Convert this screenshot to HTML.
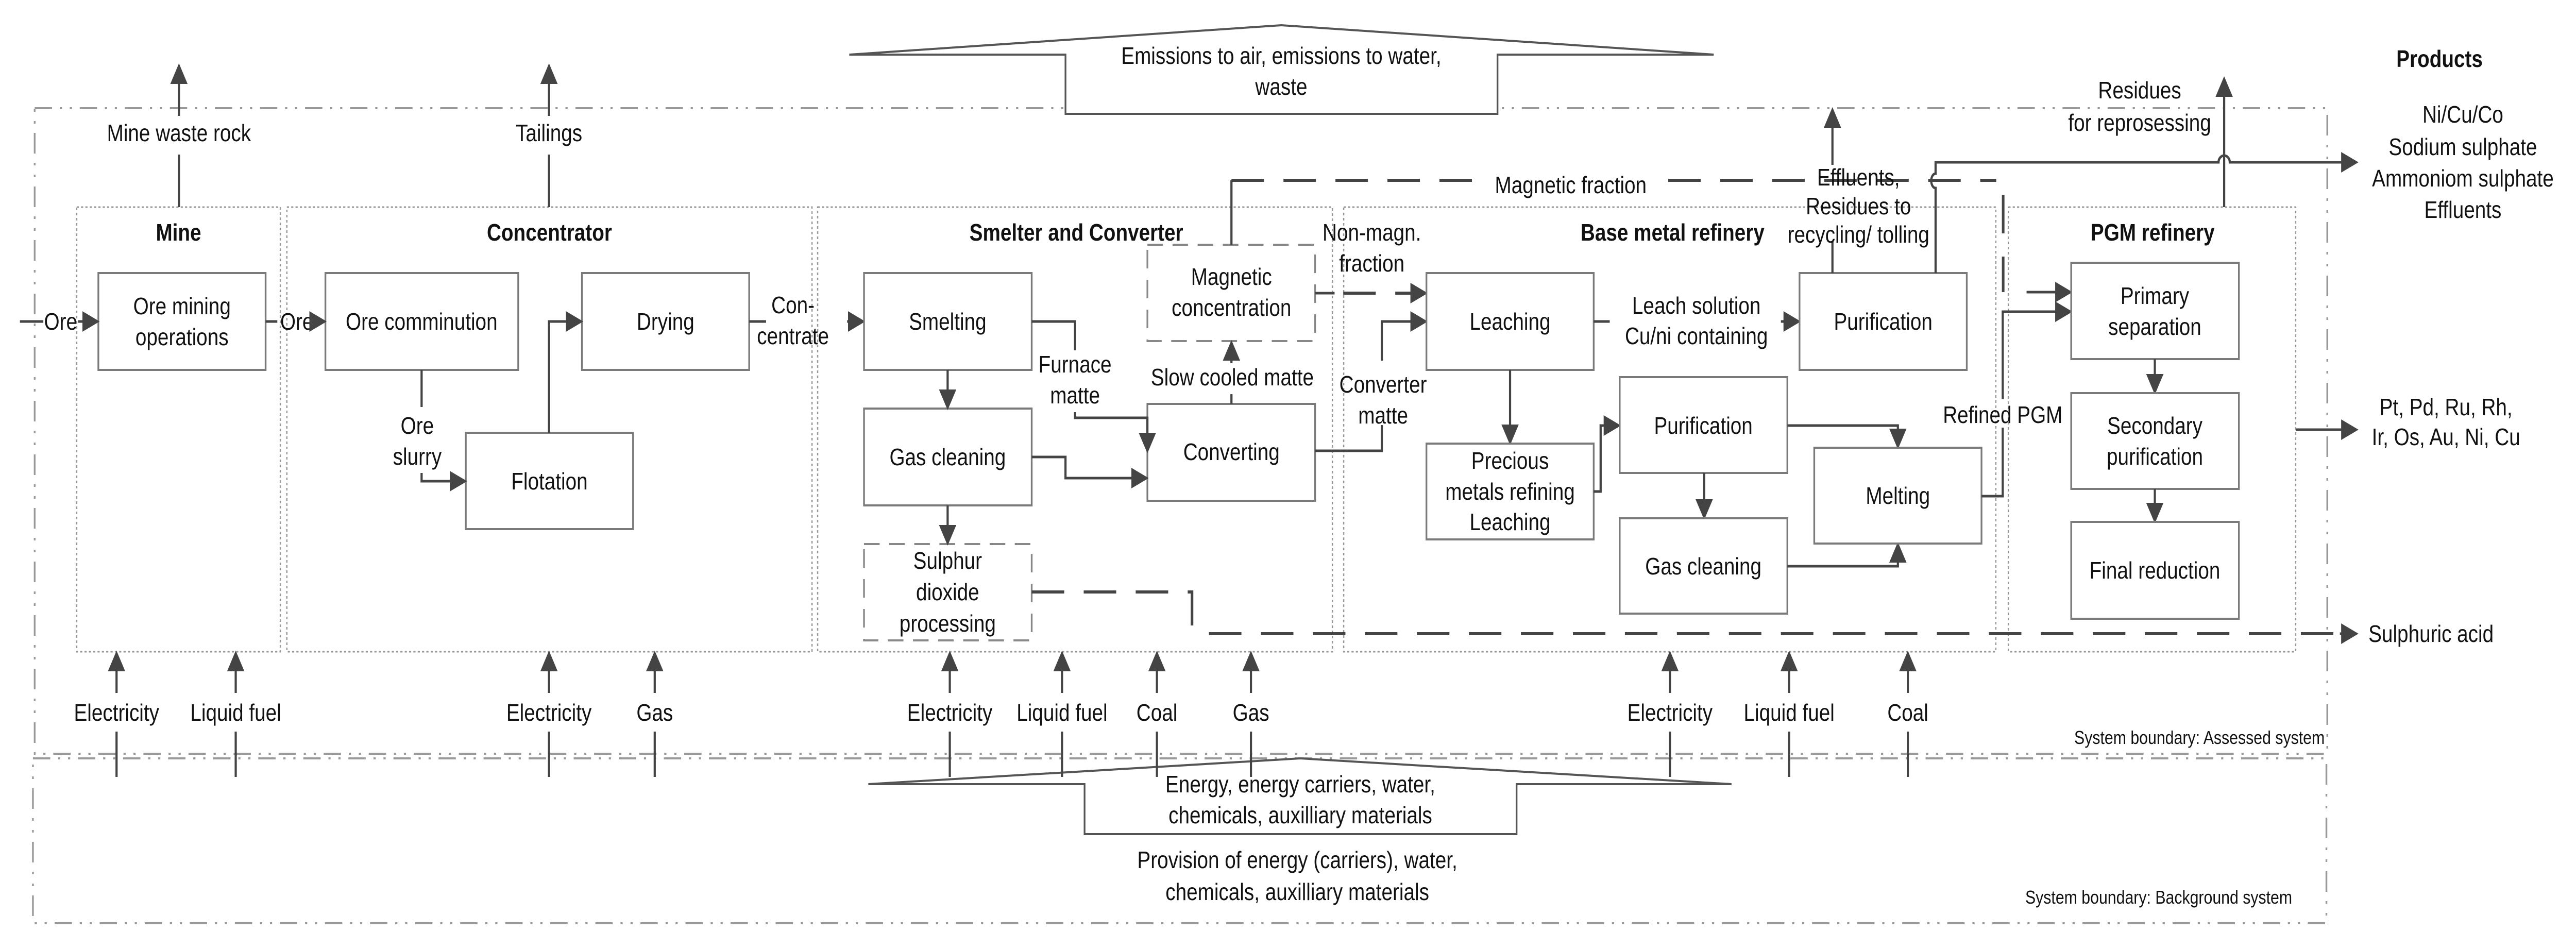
<!DOCTYPE html>
<html><head><meta charset="utf-8"><style>
html,body{margin:0;padding:0;background:#fff;width:100%;height:100%;overflow:hidden;}
svg{display:block;width:100vw;height:100vh;}
text{font-family:"Liberation Sans",Arial,sans-serif;font-size:46px;fill:#111;text-anchor:middle;}
.b{font-weight:bold;}
.box{fill:#fff;stroke:#7a7a7a;stroke-width:4;}
.dbox{fill:#fff;stroke:#888;stroke-width:4;stroke-dasharray:36 22;}
.area{fill:none;stroke:#999;stroke-width:3;stroke-dasharray:5 5;}
.bound{fill:none;stroke:#999;stroke-width:4;stroke-dasharray:40 18 5 18 5 18;}
.ln{fill:none;stroke:#444;stroke-width:5;}
.dl{fill:none;stroke:#444;stroke-width:6;stroke-dasharray:75 45;}
</style></head><body>
<svg viewBox="0 0 5945 1842" preserveAspectRatio="none" xmlns="http://www.w3.org/2000/svg">
<defs>
<marker id="a" markerWidth="8" markerHeight="8" refX="7" refY="4" orient="auto" markerUnits="strokeWidth">
<path d="M0,0 L8,4 L0,8 z" fill="#444"/></marker>
</defs>

<rect class="bound" x="80" y="210" width="5291" height="1253"/>
<rect class="bound" x="76" y="1472" width="5293" height="320"/>

<rect class="area" x="177" y="402" width="470" height="863"/>
<rect class="area" x="662" y="402" width="1212" height="863"/>
<rect class="area" x="1887" y="402" width="1188" height="863"/>
<rect class="area" x="3101" y="402" width="1505" height="863"/>
<rect class="area" x="4635" y="402" width="663" height="863"/>

<path d="M1960,106 L2957,49 L3955,106 L3456,106 L3456,221 L2459,221 L2459,106 Z" fill="#fff" stroke="#555" stroke-width="4"/>
<text x="2957" y="124">Emissions to air, emissions to water,</text>
<text x="2957" y="184">waste</text>

<path d="M2004,1522 L3001,1472 L3996,1522 L3500,1522 L3500,1619 L2503,1619 L2503,1522 Z" fill="#fff" stroke="#555" stroke-width="4"/>

<text class="b" x="412" y="467">Mine</text>
<text class="b" x="1268" y="467">Concentrator</text>
<text class="b" x="2484" y="467">Smelter and Converter</text>
<text class="b" x="3860" y="467">Base metal refinery</text>
<text class="b" x="4968" y="467">PGM refinery</text>
<text class="b" x="5630" y="130">Products</text>

<line class="ln" x1="413" y1="402" x2="413" y2="300"/>
<line class="ln" x1="413" y1="225" x2="413" y2="128" marker-end="url(#a)"/>
<text x="413" y="274">Mine waste rock</text>
<line class="ln" x1="1267" y1="402" x2="1267" y2="300"/>
<line class="ln" x1="1267" y1="225" x2="1267" y2="128" marker-end="url(#a)"/>
<text x="1267" y="274">Tailings</text>

<rect class="box" x="227" y="530" width="386" height="188"/>
<text x="420" y="610">Ore mining</text><text x="420" y="670">operations</text>
<rect class="box" x="751" y="530" width="445" height="188"/>
<text x="973" y="640">Ore comminution</text>
<rect class="box" x="1343" y="530" width="386" height="188"/>
<text x="1536" y="640">Drying</text>
<rect class="box" x="1075" y="840" width="386" height="187"/>
<text x="1268" y="950">Flotation</text>

<line class="ln" x1="46" y1="624" x2="100" y2="624"/>
<text x="140" y="640">Ore</text>
<line class="ln" x1="180" y1="624" x2="225" y2="624" marker-end="url(#a)"/>
<line class="ln" x1="613" y1="624" x2="640" y2="624"/>
<text x="685" y="640">Ore</text>
<line class="ln" x1="728" y1="624" x2="749" y2="624" marker-end="url(#a)"/>
<line class="ln" x1="973" y1="718" x2="973" y2="790"/>
<text x="963" y="842">Ore</text><text x="963" y="902">slurry</text>
<path class="ln" d="M973,918 L973,934 L1073,934" marker-end="url(#a)"/>
<path class="ln" d="M1267,840 L1267,624 L1341,624" marker-end="url(#a)"/>
<line class="ln" x1="1729" y1="624" x2="1768" y2="624"/>
<text x="1830" y="608">Con-</text><text x="1830" y="668">centrate</text>
<line class="ln" x1="1955" y1="624" x2="1992" y2="624" marker-end="url(#a)"/>

<rect class="box" x="1994" y="530" width="387" height="188"/>
<text x="2187" y="640">Smelting</text>
<rect class="box" x="1994" y="793" width="387" height="188"/>
<text x="2187" y="903">Gas cleaning</text>
<rect class="dbox" x="1994" y="1056" width="387" height="187"/>
<text x="2187" y="1104">Sulphur</text><text x="2187" y="1165">dioxide</text><text x="2187" y="1226">processing</text>
<rect class="dbox" x="2648" y="475" width="387" height="187"/>
<text x="2842" y="553">Magnetic</text><text x="2842" y="613">concentration</text>
<rect class="box" x="2648" y="784" width="387" height="188"/>
<text x="2842" y="893">Converting</text>

<line class="ln" x1="2187" y1="718" x2="2187" y2="791" marker-end="url(#a)"/>
<line class="ln" x1="2187" y1="981" x2="2187" y2="1054" marker-end="url(#a)"/>
<path class="ln" d="M2381,624 L2481,624 L2481,680"/>
<text x="2481" y="723">Furnace</text><text x="2481" y="783">matte</text>
<path class="ln" d="M2481,800 L2481,811 L2648,811 L2648,875" marker-end="url(#a)"/>
<path class="ln" d="M2381,887 L2459,887 L2459,928 L2646,928" marker-end="url(#a)"/>
<line class="ln" x1="2842" y1="784" x2="2842" y2="765"/>
<text x="2844" y="748">Slow cooled matte</text>
<line class="ln" x1="2842" y1="705" x2="2842" y2="665" marker-end="url(#a)"/>
<line class="ln" x1="2842" y1="475" x2="2842" y2="350"/>
<path class="dl" d="M2842,350 L3400,350"/>
<text x="3625" y="375">Magnetic fraction</text>
<path class="dl" d="M3850,350 L4607,350"/>
<path class="dl" d="M4623,378 L4623,567"/>
<line class="ln" x1="4677" y1="567" x2="4778" y2="567" marker-end="url(#a)"/>
<text x="3166" y="467">Non-magn.</text><text x="3166" y="527">fraction</text>
<line class="ln" x1="3035" y1="569" x2="3080" y2="569"/>
<path class="dl" d="M3100,569 L3270,569"/>
<line class="ln" x1="3270" y1="569" x2="3290" y2="569" marker-end="url(#a)"/>
<path class="ln" d="M3035,875 L3189,875 L3189,825"/>
<text x="3192" y="762">Converter</text><text x="3192" y="822">matte</text>
<path class="ln" d="M3189,700 L3189,624 L3290,624" marker-end="url(#a)"/>

<path class="dl" d="M2381,1149 L2751,1149 L2751,1230"/>
<path class="dl" d="M2790,1230 L5400,1230"/>
<line class="ln" x1="5400" y1="1230" x2="5438" y2="1230" marker-end="url(#a)"/>
<text x="5466" y="1246" style="text-anchor:start">Sulphuric acid</text>

<rect class="box" x="3292" y="530" width="386" height="188"/>
<text x="3485" y="640">Leaching</text>
<line class="ln" x1="3678" y1="624" x2="3715" y2="624"/>
<text x="3915" y="609">Leach solution</text><text x="3915" y="668">Cu/ni containing</text>
<line class="ln" x1="4110" y1="624" x2="4151" y2="624" marker-end="url(#a)"/>
<rect class="box" x="4153" y="530" width="386" height="188"/>
<text x="4346" y="640">Purification</text>
<line class="ln" x1="3485" y1="718" x2="3485" y2="859" marker-end="url(#a)"/>
<rect class="box" x="3292" y="861" width="386" height="186"/>
<text x="3485" y="910">Precious</text><text x="3485" y="970">metals refining</text><text x="3485" y="1029">Leaching</text>
<path class="ln" d="M3678,954 L3694,954 L3694,826 L3736,826" marker-end="url(#a)"/>
<rect class="box" x="3738" y="732" width="387" height="186"/>
<text x="3931" y="842">Purification</text>
<line class="ln" x1="3933" y1="918" x2="3933" y2="1004" marker-end="url(#a)"/>
<rect class="box" x="3738" y="1006" width="387" height="185"/>
<text x="3931" y="1115">Gas cleaning</text>
<path class="ln" d="M4125,826 L4380,826 L4380,867" marker-end="url(#a)"/>
<path class="ln" d="M4125,1099 L4380,1099 L4380,1057" marker-end="url(#a)"/>
<rect class="box" x="4187" y="869" width="386" height="186"/>
<text x="4380" y="978">Melting</text>
<path class="ln" d="M4573,963 L4622,963 L4622,830"/>
<text x="4622" y="821">Refined PGM</text>
<path class="ln" d="M4622,775 L4622,605 L4778,605" marker-end="url(#a)"/>

<line class="ln" x1="4229" y1="530" x2="4229" y2="470"/>
<text x="4289" y="360">Effluents,</text><text x="4289" y="416">Residues to</text><text x="4289" y="471">recycling/ tolling</text>
<line class="ln" x1="4229" y1="320" x2="4229" y2="213" marker-end="url(#a)"/>
<path class="ln" d="M4467,530 L4467,365 A10,14 0 0 1 4467,337 L4467,315 L5120,315 A13,13 0 0 1 5146,315 L5438,315" marker-end="url(#a)"/>
<line class="ln" x1="5133" y1="402" x2="5133" y2="153" marker-end="url(#a)"/>
<text x="4938" y="191">Residues</text><text x="4938" y="254">for reprosessing</text>
<text x="5684" y="238">Ni/Cu/Co</text><text x="5684" y="301">Sodium sulphate</text>
<text x="5684" y="362">Ammoniom sulphate</text><text x="5684" y="423">Effluents</text>

<rect class="box" x="4780" y="510" width="387" height="187"/>
<text x="4973" y="590">Primary</text><text x="4973" y="650">separation</text>
<line class="ln" x1="4973" y1="697" x2="4973" y2="761" marker-end="url(#a)"/>
<rect class="box" x="4780" y="763" width="387" height="186"/>
<text x="4973" y="842">Secondary</text><text x="4973" y="902">purification</text>
<line class="ln" x1="4973" y1="949" x2="4973" y2="1011" marker-end="url(#a)"/>
<rect class="box" x="4780" y="1013" width="387" height="188"/>
<text x="4973" y="1123">Final reduction</text>
<line class="ln" x1="5298" y1="834" x2="5438" y2="834" marker-end="url(#a)"/>
<text x="5645" y="806">Pt, Pd, Ru, Rh,</text><text x="5645" y="864">Ir, Os, Au, Ni, Cu</text>

<g>
<line class="ln" x1="269" y1="1508" x2="269" y2="1420"/><line class="ln" x1="269" y1="1345" x2="269" y2="1268" marker-end="url(#a)"/><text x="269" y="1399">Electricity</text>
<line class="ln" x1="544" y1="1508" x2="544" y2="1420"/><line class="ln" x1="544" y1="1345" x2="544" y2="1268" marker-end="url(#a)"/><text x="544" y="1399">Liquid fuel</text>
<line class="ln" x1="1267" y1="1508" x2="1267" y2="1420"/><line class="ln" x1="1267" y1="1345" x2="1267" y2="1268" marker-end="url(#a)"/><text x="1267" y="1399">Electricity</text>
<line class="ln" x1="1511" y1="1508" x2="1511" y2="1420"/><line class="ln" x1="1511" y1="1345" x2="1511" y2="1268" marker-end="url(#a)"/><text x="1511" y="1399">Gas</text>
<line class="ln" x1="2192" y1="1508" x2="2192" y2="1420"/><line class="ln" x1="2192" y1="1345" x2="2192" y2="1268" marker-end="url(#a)"/><text x="2192" y="1399">Electricity</text>
<line class="ln" x1="2451" y1="1508" x2="2451" y2="1420"/><line class="ln" x1="2451" y1="1345" x2="2451" y2="1268" marker-end="url(#a)"/><text x="2451" y="1399">Liquid fuel</text>
<line class="ln" x1="2670" y1="1508" x2="2670" y2="1420"/><line class="ln" x1="2670" y1="1345" x2="2670" y2="1268" marker-end="url(#a)"/><text x="2670" y="1399">Coal</text>
<line class="ln" x1="2887" y1="1508" x2="2887" y2="1420"/><line class="ln" x1="2887" y1="1345" x2="2887" y2="1268" marker-end="url(#a)"/><text x="2887" y="1399">Gas</text>
<line class="ln" x1="3854" y1="1508" x2="3854" y2="1420"/><line class="ln" x1="3854" y1="1345" x2="3854" y2="1268" marker-end="url(#a)"/><text x="3854" y="1399">Electricity</text>
<line class="ln" x1="4129" y1="1508" x2="4129" y2="1420"/><line class="ln" x1="4129" y1="1345" x2="4129" y2="1268" marker-end="url(#a)"/><text x="4129" y="1399">Liquid fuel</text>
<line class="ln" x1="4403" y1="1508" x2="4403" y2="1420"/><line class="ln" x1="4403" y1="1345" x2="4403" y2="1268" marker-end="url(#a)"/><text x="4403" y="1399">Coal</text>
</g>

<text x="3001" y="1538">Energy, energy carriers, water,</text>
<text x="3001" y="1598">chemicals, auxilliary materials</text>
<text x="2994" y="1685">Provision of energy (carriers), water,</text>
<text x="2994" y="1747">chemicals, auxilliary materials</text>

<text x="5365" y="1444" style="text-anchor:end;font-size:36px">System boundary: Assessed system</text>
<text x="5290" y="1754" style="text-anchor:end;font-size:36px">System boundary: Background system</text>
</svg>
</body></html>
